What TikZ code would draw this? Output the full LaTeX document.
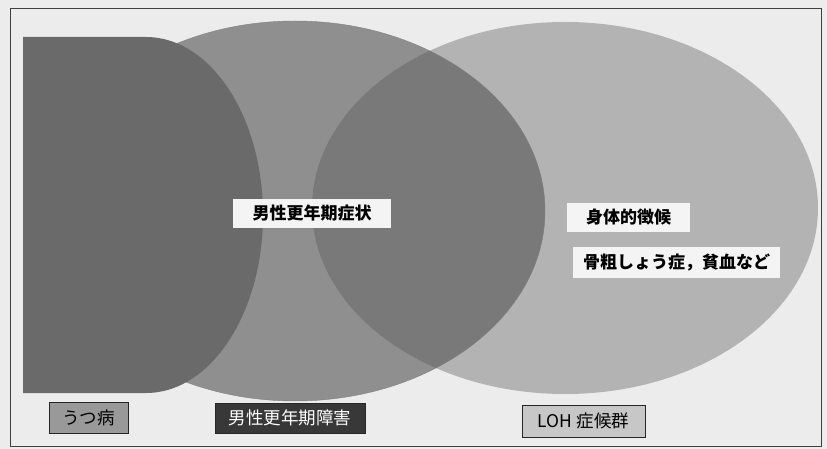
\documentclass[tikz,border=0pt]{standalone}
\usepackage{fontspec}
\newfontfamily\cjk{Noto Sans CJK JP}
\definecolor{bgcol}{HTML}{ECECEC}
\definecolor{depcol}{HTML}{6A6A6A}
\definecolor{midcol}{HTML}{8F8F8F}
\definecolor{lohcol}{HTML}{B3B3B3}
\definecolor{ovlcol}{HTML}{797979}
\definecolor{labwhite}{HTML}{F4F4F4}
\tikzset{
  whitelabel/.style={fill=labwhite, inner sep=0pt, font=\cjk\bfseries\fontsize{17}{20}\selectfont, text=black},
  keybox/.style={draw=black!85, line width=0.8pt, inner sep=0pt, font=\cjk\fontsize{17.5}{20}\selectfont},
}
\begin{document}
\begin{tikzpicture}[x=1pt,y=1pt]
\useasboundingbox (0,0) rectangle (827,-449);
\fill[bgcol] (0,0) rectangle (827,-449);
% LOH ellipse
\fill[lohcol] (565,-208) ellipse [x radius=253, y radius=186];
% male climacteric symptoms ellipse
\fill[midcol] (295,-211) ellipse [x radius=250, y radius=190];
\begin{scope}
  \clip (295,-211) ellipse [x radius=250, y radius=190];
  \fill[ovlcol] (565,-208) ellipse [x radius=253, y radius=186];
\end{scope}
\draw[black!50, line width=0.4pt] (295,-211) ellipse [x radius=250, y radius=190];
% depression shape
\fill[depcol] (23,-37) -- (146,-37) arc[start angle=90, end angle=-90, x radius=117, y radius=178] -- (23,-393) -- cycle;
% frame
\draw[black!75, line width=0.9pt] (10,-8) rectangle (821,-446);
% labels
\node[whitelabel, minimum width=158, minimum height=29] (sym) at (312,-213.5) {男性更年期症状};
\node[whitelabel, minimum width=123, minimum height=29] (phys) at (628.5,-217.5) {身体的徴候};
\node[whitelabel, minimum width=207, minimum height=31] (osteo) at (676.5,-262.5) {骨粗しょう症，貧血など};
% keys
\node[keybox, fill=black!40, minimum width=79, minimum height=31, text=black] (dep) at (88.5,-417.5) {うつ病};
\node[keybox, fill=black!78, minimum width=150, minimum height=30, text=white] (pade) at (290,-418) {男性更年期障害};
\node[keybox, fill=black!22, minimum width=123, minimum height=32, text=black] (loh) at (583.5,-421) {LOH 症候群};
\end{tikzpicture}
\end{document}
